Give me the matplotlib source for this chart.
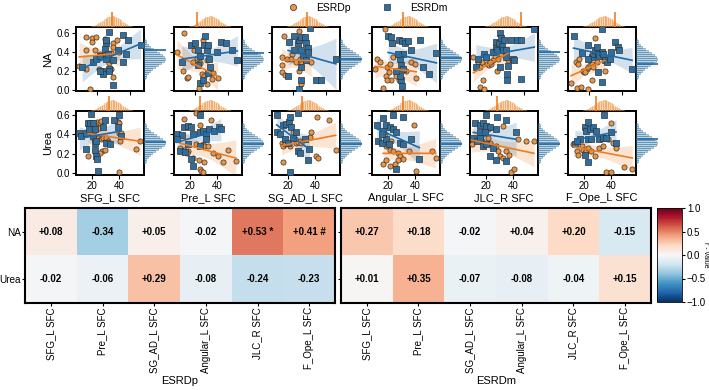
import numpy as np
import matplotlib
matplotlib.use("Agg")
import matplotlib.pyplot as plt
from matplotlib.lines import Line2D

plt.rcParams["font.family"] = ["Liberation Sans", "DejaVu Sans"]

# ---- data ----
regions = ["SFG_L SFC", "Pre_L SFC", "SG_AD_L SFC", "Angular_L SFC", "JLC_R SFC", "F_Ope_L SFC"]
measures = ["NA", "Urea"]

r_esrdp = [[0.08, -0.34, 0.05, -0.02, 0.53, 0.41],
           [-0.02, -0.06, 0.29, -0.08, -0.24, -0.23]]
r_esrdm = [[0.27, 0.18, -0.02, 0.04, 0.20, -0.15],
           [0.01, 0.35, -0.07, -0.08, -0.04, 0.15]]
sig_esrdp = [["", "", "", "", "*", "#"],
             ["", "", "", "", "", ""]]
sig_esrdm = [["", "", "", "", "", ""],
             ["", "", "", "", "", ""]]

# (SFC, value) pairs per region, ESRDp = orange, ESRDm = blue
na_p = [
    [(9.5, .25), (13.5, .22), (13.5, .42), (13.5, .56), (15.8, .01), (17.4, .54), (17.4, .50), (19.3, .56),
     (21.3, .22), (22.7, .20), (18.8, .42), (24.7, .53), (25.6, .38), (28.6, .39), (29.6, .49), (29.6, .45),
     (29.9, .14), (28.6, .22), (32.0, .52), (33.5, .40), (27.2, .28), (21.7, .38)],
    [(13.5, .60), (9.4, .40), (12.9, .20), (15.3, .13), (15.9, .14), (19.4, .42), (22.4, .33), (18.8, .29),
     (23.0, .28), (22.4, .02), (24.1, .17), (25.3, .15), (27.1, .31), (27.1, .06), (30.0, .12), (33.6, .13),
     (30.6, .18), (21.2, .34), (24.7, .52)],
    [(14.9, .57), (23.7, .62), (13.7, .35), (16.3, .33), (19.8, .38), (19.2, .32), (22.2, .29), (25.1, .29),
     (13.3, .26), (13.3, .19), (15.3, .16), (23.7, .20), (24.7, .06), (24.1, .33), (31.0, .29), (27.1, .36)],
    [(15.3, .64), (10.4, .33), (12.3, .29), (16.3, .24), (17.8, .19), (15.9, .15), (19.2, .10), (16.3, .10),
     (13.9, .02), (23.7, .10), (34.0, .13), (31.0, .29), (28.1, .20), (18.2, .27), (22.2, .15), (9.4, .22),
     (20.2, .35), (33.0, .27)],
    [(9.6, .35), (12.5, .29), (13.5, .24), (14.5, .29), (17.0, .35), (17.8, .27), (19.0, .26), (20.4, .27),
     (21.4, .31), (22.4, .36), (23.4, .42), (23.7, .20), (25.3, .40), (26.3, .38), (27.7, .42), (24.3, .33),
     (15.4, .10), (13.5, .03), (15.9, .01), (30.2, .31), (19.4, .29)],
    [(9.4, .07), (12.5, .29), (13.9, .33), (13.3, .27), (16.8, .20), (17.2, .19), (18.8, .22), (19.8, .24),
     (20.8, .26), (21.8, .27), (22.7, .24), (23.7, .54), (24.7, .29), (27.7, .35), (29.6, .20), (21.8, .11),
     (12.9, .02), (15.3, .03), (19.8, .01), (17.8, .19), (15.9, .40)],
]
na_m = [
    [(11.3, .24), (17.7, .29), (19.8, .32), (21.7, .36), (23.3, .20), (23.7, .17), (25.6, .33), (24.7, .43),
     (25.3, .49), (25.6, .52), (27.6, .61), (29.6, .31), (27.2, .22), (29.6, .05), (32.5, .42), (35.4, .58),
     (37.3, .38), (38.4, .52), (35.4, .29), (46.2, .47), (26.5, .38), (21.7, .20), (27.6, .20)],
    [(12.3, .29), (17.6, .47), (20.0, .49), (21.8, .42), (23.0, .36), (25.3, .47), (25.9, .57), (27.1, .42),
     (27.7, .47), (28.3, .33), (28.8, .24), (27.7, .18), (23.0, .07), (24.7, .10), (33.0, .40), (35.9, .50),
     (38.9, .49), (42.4, .42), (21.8, .26), (45.4, .31)],
    [(17.8, .50), (20.8, .42), (23.1, .49), (23.7, .52), (25.1, .56), (27.1, .56), (27.7, .49), (29.0, .44),
     (30.0, .65), (29.0, .40), (26.1, .35), (28.1, .31), (25.1, .24), (25.1, .10), (17.2, .15), (20.6, .57),
     (23.7, .01), (33.6, .11), (36.9, .11), (45.8, .33), (24.7, .42)],
    [(17.2, .57), (19.2, .56), (19.8, .49), (23.7, .52), (25.7, .51), (27.1, .49), (29.0, .51), (26.1, .38),
     (31.0, .42), (36.3, .52), (37.9, .24), (41.4, .17), (25.1, .26), (26.1, .22), (25.1, .10), (25.7, .04),
     (24.1, .15), (22.2, .20), (24.5, .33), (46.1, .39), (23.1, .38)],
    [(11.1, .24), (12.5, .33), (15.9, .38), (17.4, .35), (21.4, .40), (23.0, .45), (23.4, .50), (23.7, .42),
     (24.9, .49), (25.7, .60), (26.3, .55), (26.9, .46), (27.3, .42), (27.7, .52), (28.8, .42), (29.2, .35),
     (32.1, .52), (35.5, .52), (38.1, .52), (33.1, .32), (34.1, .31), (30.2, .25), (29.6, .10), (29.6, .17),
     (38.1, .12), (46.0, .64), (25.3, .24)],
    [(10.9, .57), (15.9, .39), (19.8, .47), (21.8, .35), (22.7, .38), (23.7, .42), (25.1, .45), (25.7, .38),
     (26.2, .36), (27.7, .40), (28.6, .38), (29.6, .31), (30.6, .29), (32.5, .33), (33.5, .40), (35.5, .50),
     (37.4, .45), (38.0, .42), (27.7, .08), (25.7, .19), (27.7, .64), (45.9, .22), (19.4, .33)],
]
urea_p = [
    [(17.4, .18), (19.8, .50), (21.5, .52), (22.9, .49), (23.8, .53), (25.7, .52), (27.0, .54), (25.2, .46),
     (21.0, .38), (21.5, .35), (24.5, .36), (27.0, .35), (28.1, .36), (30.5, .36), (31.7, .33), (37.7, .54),
     (38.8, .53), (40.0, .52), (39.5, .41), (41.2, .41), (40.5, .33), (27.7, .23), (29.3, .24), (25.7, .21),
     (40.0, .01), (52.0, .25), (55.0, .33)],
    [(12.9, .26), (16.0, .24), (18.8, .23), (24.8, .30), (29.5, .30), (30.7, .28), (33.1, .28), (26.7, .13),
     (27.2, .04), (28.4, .02), (29.5, .01), (30.0, .11), (36.7, .21), (40.2, .18), (43.8, .11), (48.1, .24),
     (53.4, .12), (22.4, .16), (17.7, .21), (15.7, .56), (24.8, .62), (27.2, .50), (35.5, .55)],
    [(15.5, .31), (16.7, .28), (17.9, .30), (25.0, .35), (26.2, .31), (27.4, .32), (28.6, .33), (29.8, .31),
     (36.2, .37), (36.9, .42), (40.5, .18), (41.7, .16), (54.8, .24), (16.7, .11), (21.5, .28), (41.0, .58),
     (50.0, .55), (23.8, .42)],
    [(17.9, .40), (19.1, .28), (21.5, .24), (23.8, .23), (27.4, .21), (28.6, .18), (31.0, .14), (27.4, .13),
     (16.7, .09), (19.1, .13), (21.5, .07), (25.0, .09), (40.5, .02), (52.4, .23), (54.8, .16), (39.3, .50),
     (35.7, .23), (22.7, .33)],
    [(9.8, .30), (17.0, .33), (18.1, .40), (21.7, .36), (22.9, .31), (25.2, .28), (27.7, .28), (28.8, .23),
     (30.0, .18), (32.4, .16), (34.8, .23), (37.2, .19), (38.4, .01), (40.7, .04), (43.1, .35), (49.1, .33),
     (55.0, .33), (21.7, .45), (32.2, .49)],
    [(14.8, .23), (16.0, .19), (18.4, .28), (19.5, .24), (20.7, .21), (21.9, .23), (23.1, .26), (25.5, .23),
     (27.9, .18), (31.4, .26), (33.8, .28), (39.8, .52), (41.0, .31), (43.4, .26), (36.2, .01), (39.8, .01),
     (49.3, .06), (55.2, .04), (37.4, .35), (12.4, .30)],
]
urea_m = [
    [(11.0, .41), (12.0, .38), (15.7, .25), (16.2, .41), (17.4, .52), (18.1, .45), (19.1, .52), (19.8, .61),
     (21.0, .38), (22.2, .31), (23.4, .33), (22.2, .24), (23.4, .18), (23.8, .14), (24.5, .02), (28.1, .48),
     (29.3, .55), (30.5, .31), (32.9, .30), (36.4, .55), (38.8, .47), (39.5, .60), (41.2, .38), (22.2, .45),
     (21.0, .52)],
    [(10.5, .40), (14.1, .39), (15.7, .48), (18.8, .49), (21.2, .47), (22.4, .40), (27.2, .42), (29.5, .43),
     (31.9, .40), (34.3, .45), (37.9, .43), (41.4, .47), (42.6, .45), (12.9, .23), (16.5, .22), (18.8, .30),
     (21.2, .14), (22.4, .07), (27.2, .28), (31.9, .35), (27.2, .60), (10.5, .35)],
    [(12.0, .42), (14.3, .40), (16.7, .50), (19.1, .51), (21.0, .53), (22.7, .47), (26.2, .42), (27.4, .23),
     (28.6, .21), (34.5, .13), (35.7, .25), (21.5, .01), (17.9, .35), (20.3, .31), (23.8, .36), (32.2, .35),
     (12.0, .60), (21.5, .58), (27.4, .62)],
    [(12.0, .50), (16.7, .43), (19.1, .50), (21.5, .47), (23.8, .45), (26.2, .42), (13.1, .33), (15.5, .31),
     (19.1, .35), (21.0, .30), (28.6, .31), (31.0, .30), (42.9, .14), (26.2, .04), (36.9, .35), (15.5, .40),
     (16.7, .57), (23.8, .60), (31.0, .58)],
    [(12.2, .52), (15.7, .50), (18.1, .52), (20.5, .49), (22.9, .47), (27.7, .45), (11.0, .36), (13.4, .33),
     (15.7, .36), (18.1, .28), (20.5, .30), (25.2, .26), (22.9, .18), (27.7, .13), (34.8, .12), (42.0, .42),
     (15.7, .42), (19.3, .42), (20.5, .60), (28.0, .58), (35.0, .55)],
    [(13.6, .30), (17.2, .35), (20.7, .48), (21.9, .43), (24.3, .45), (26.7, .47), (29.1, .43), (23.1, .35),
     (25.5, .35), (31.4, .35), (33.8, .36), (36.2, .36), (39.8, .42), (43.4, .31), (14.8, .33), (23.1, .11),
     (20.7, .19), (23.1, .53), (35.0, .60)],
]

# marginal reference lines and histogram counts
top_line = [[28.8, 21.2, 28.3, 25.9, 38.3, 35.9],
            [32.2, 27.2, 30.7, 31.4, 27.9, 28.6]]
right_line = [[0.42, 0.39, 0.33, 0.34, 0.40, 0.27],
              [0.32, 0.30, 0.30, 0.30, 0.30, 0.35]]
top_counts = [1, 2, 3, 4, 6, 8, 10, 13, 16, 18, 20, 21, 22, 22, 21, 19, 17, 14, 11, 8, 6, 4, 3, 2, 1]
right_counts = [1, 2, 3, 5, 7, 10, 14, 18, 22, 25, 27, 26, 23, 19, 15, 11, 8, 5, 3, 2, 1]

# ---- style ----
C_P = "#ec9440"
C_M = "#2f6f9f"
L_P = "#ee7d22"
L_M = "#1f6aa8"
W, H = 709, 390

fig = plt.figure(figsize=(W / 100, H / 100), dpi=100)


def px(x0, y0, w, h):
    return [x0 / W, 1 - (y0 + h) / H, w / W, h / H]


def fit_band(x, y, xs):
    n = len(x)
    b, a = np.polyfit(x, y, 1)
    resid = y - (a + b * x)
    s = np.sqrt(np.sum(resid ** 2) / (n - 2))
    xm = x.mean()
    se = s * np.sqrt(1 / n + (xs - xm) ** 2 / np.sum((x - xm) ** 2))
    return a + b * xs, 2.07 * se


lefts = [76, 174, 272, 372, 470, 568]
tops = [27, 111]
xlims = [(7.6, 48.2), (8.6, 57.9)]
ylims = [(-0.01, 0.66), (-0.02, 0.64)]
rows = [(na_p, na_m), (urea_p, urea_m)]

for r in range(2):
    for c in range(6):
        ax = fig.add_axes(px(lefts[c], tops[r], 68, 64))
        lo, hi = xlims[r]
        ax.set_xlim(lo, hi)
        ax.set_ylim(*ylims[r])
        for data, col, lcol, mk in [(rows[r][0][c], C_P, L_P, "o"), (rows[r][1][c], C_M, L_M, "s")]:
            d = np.array(data)
            x, y = d[:, 0], d[:, 1]
            ax.scatter(x, y, s=14, marker=mk, color=col, edgecolor="#333333", linewidth=0.5, zorder=3)
            xs = np.linspace(x.min(), x.max(), 60)
            yh, ci = fit_band(x, y, xs)
            ax.fill_between(xs, yh - ci, yh + ci, color=lcol, alpha=0.2, linewidth=0, zorder=2)
            ax.plot(xs, yh, color=lcol, lw=1.2, zorder=4)
        for s in ax.spines.values():
            s.set_linewidth(1.4)
        ax.set_xticks([20, 40])
        ax.set_yticks([0.0, 0.2, 0.4, 0.6])
        ax.tick_params(length=3, width=0.8, labelsize=7, pad=1.5)
        if r == 0:
            ax.set_xticklabels([])
        else:
            ax.set_xlabel(regions[c], fontsize=8, labelpad=1)
        if c == 0:
            ax.set_yticklabels(["0.0", "0.2", "0.4", "0.6"])
            ax.set_ylabel(measures[r], fontsize=8, labelpad=2)
        else:
            ax.set_yticklabels([])

        # top marginal
        axt = fig.add_axes(px(lefts[c], tops[r] - 15, 68, 15), sharex=ax)
        edges = np.linspace(lo + 0.2 * (hi - lo), lo + 0.85 * (hi - lo), len(top_counts) + 1)
        axt.bar(edges[:-1], top_counts, width=np.diff(edges), align="edge",
                facecolor=(0.95, 0.62, 0.3, 0.4), edgecolor=(0.93, 0.55, 0.2, 0.4), linewidth=0.6)
        axt.axvline(top_line[r][c], color=L_P, lw=1.2)
        axt.set_ylim(0, 30)
        axt.axis("off")

        # right marginal
        ylo, yhi = ylims[r]
        axr = fig.add_axes(px(lefts[c] + 68, tops[r], 22, 64), sharey=ax)
        redges = np.linspace(ylo + 0.18 * (yhi - ylo), ylo + 0.82 * (yhi - ylo), len(right_counts) + 1)
        axr.barh(redges[:-1], right_counts, height=np.diff(redges), align="edge",
                 facecolor=(0.18, 0.44, 0.62, 0.3), edgecolor=(0.18, 0.44, 0.62, 0.45), linewidth=0.6)
        axr.axhline(right_line[r][c], color=L_M, lw=1.2)
        axr.set_xlim(0, 28)
        axr.axis("off")

# legend
handles = [Line2D([], [], marker="o", ls="", color=C_P, mec="#333333", mew=0.5, ms=4.5),
           Line2D([], [], marker="s", ls="", color=C_M, mec="#333333", mew=0.5, ms=4.5)]
fig.legend(handles, ["ESRDp", "ESRDm"], loc="upper center", bbox_to_anchor=(0.515, 1.008),
           ncol=2, frameon=False, fontsize=7.5, columnspacing=2.5, handletextpad=1.2, borderpad=0.1)

# heatmaps
for i, (rv, sig, name) in enumerate([(r_esrdp, sig_esrdp, "ESRDp"), (r_esrdm, sig_esrdm, "ESRDm")]):
    ax = fig.add_axes(px([25, 341][i], 208, 310, 95))
    im = ax.imshow(np.array(rv), cmap="RdBu_r", vmin=-1, vmax=1, aspect="auto")
    for yy in range(2):
        for xx in range(6):
            txt = f"{rv[yy][xx]:+.2f}"
            if sig[yy][xx]:
                txt += " " + sig[yy][xx]
            ax.text(xx, yy, txt, ha="center", va="center", fontsize=7, fontweight="bold")
    ax.set_xticks(range(6))
    ax.set_xticklabels(regions, rotation=90, fontsize=7)
    ax.set_yticks(range(2))
    if i == 0:
        ax.set_yticklabels(measures, fontsize=7.2)
    else:
        ax.set_yticklabels([])
        ax.tick_params(axis="y", length=0)
    ax.tick_params(length=2, width=0.8, pad=1)
    ax.set_xlabel(name, fontsize=8, labelpad=2)
    for s in ax.spines.values():
        s.set_linewidth(1.5)

cax = fig.add_axes(px(657, 208, 25, 94))
cb = fig.colorbar(im, cax=cax, ticks=[-1, -0.5, 0, 0.5, 1])
cb.ax.tick_params(labelsize=7, length=2.5, width=0.8, pad=1)
cb.outline.set_linewidth(0.6)
fig.text(705 / W, 1 - 255 / H, "r - value", rotation=270, fontsize=5, ha="center", va="center")

fig.savefig("out.png", dpi=100)
